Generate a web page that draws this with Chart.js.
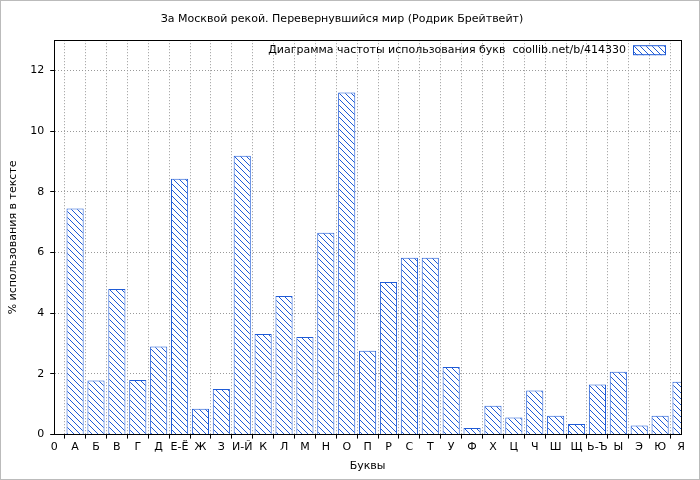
<!DOCTYPE html>
<html><head><meta charset="utf-8">
<script src="https://cdn.jsdelivr.net/npm/chart.js@4"></script>
<style>body{margin:0;background:#fff}#wrap{width:698px;height:478px;border:1px solid #bbb}</style>
</head><body><div id="wrap"><canvas id="c" width="698" height="478"></canvas></div>
<script>
// категории и значения (% использования букв)
var letters = ['0','А','Б','В','Г','Д','Е-Ё','Ж','З','И-Й','К','Л','М','Н','О','П','Р','С','Т','У','Ф','Х','Ц','Ч','Ш','Щ','Ь-Ъ','Ы','Э','Ю','Я'];
var percents = [null,7.45,1.78,4.8,1.8,2.9,8.43,0.85,1.5,9.19,3.32,4.57,3.22,6.65,11.28,2.76,5.03,5.83,5.83,2.23,0.22,0.95,0.56,1.45,0.62,0.35,1.65,2.07,0.3,0.62,1.74];
var yTicks = [0,2,4,6,8,10,12];

// штриховка
function hatch() {
  var p = document.createElement('canvas');
  p.width = 6; p.height = 6;
  var g = p.getContext('2d');
  g.fillStyle = '#fff'; g.fillRect(0,0,6,6);
  g.strokeStyle = '#1f5bd6'; g.lineWidth = 1;
  g.beginPath();
  g.moveTo(0,0); g.lineTo(6,6);
  g.moveTo(-3,3); g.lineTo(3,9);
  g.moveTo(3,-3); g.lineTo(9,3);
  g.stroke();
  return g.createPattern(p, 'repeat');
}
var pat = hatch();
var font = {family: 'DejaVu Sans', size: 11};

var legendInside = {
  id: 'legendInside',
  afterDraw: function(chart) {
    var a = chart.chartArea, ctx = chart.ctx;
    ctx.save();
    ctx.strokeStyle = '#000'; ctx.lineWidth = 1;
    ctx.strokeRect(Math.round(a.left) + 0.5, Math.round(a.top) + 0.5, Math.round(a.right - a.left), Math.round(a.bottom - a.top));
    ctx.font = '11px DejaVu Sans';
    ctx.fillStyle = '#000';
    ctx.textAlign = 'right'; ctx.textBaseline = 'middle';
    ctx.fillText('Диаграмма частоты использования букв  coollib.net/b/414330', a.right - 55, a.top + 10);
    ctx.fillStyle = pat;
    ctx.fillRect(a.right - 47, a.top + 6, 32, 9);
    ctx.strokeStyle = '#1f5bd6';
    ctx.strokeRect(a.right - 47.5, a.top + 5.5, 32, 9);
    ctx.restore();
  }
};

var ctx = document.getElementById('c').getContext('2d');
new Chart(ctx, {
  type: 'bar',
  data: {
    labels: letters,
    datasets: [{
      data: percents,
      backgroundColor: pat,
      borderColor: '#1f5bd6',
      borderWidth: 1,
      categoryPercentage: 1,
      barPercentage: 0.82
    }]
  },
  plugins: [legendInside],
  options: {
    responsive: false,
    animation: false,
    layout: {padding: {top: 4, right: 18, left: 2, bottom: 2}},
    plugins: {
      legend: {display: false},
      tooltip: {enabled: false},
      title: {display: true, text: 'За Москвой рекой. Перевернувшийся мир (Родрик Брейтвейт)', color: '#000', font: {family: 'DejaVu Sans', size: 11, weight: 'normal'}, padding: {top: 8, bottom: 14}}
    },
    scales: {
      x: {
        offset: false,
        grid: {color: '#999', tickLength: 4, tickColor: '#000'},
        border: {display: true, color: '#000', dash: [1, 2]},
        ticks: {color: '#000', font: font, autoSkip: false, maxRotation: 0, padding: 2},
        title: {display: true, text: 'Буквы', color: '#000', font: font, padding: {top: 4}}
      },
      y: {
        min: 0, max: 13,
        afterBuildTicks: function(s) { s.ticks = yTicks.map(function(v){return {value: v};}); },
        grid: {color: '#999', tickLength: 4, tickColor: '#000'},
        border: {display: true, color: '#000', dash: [1, 2]},
        ticks: {color: '#000', font: font, padding: 6},
        title: {display: true, text: '% использования в тексте', color: '#000', font: font}
      }
    }
  }
});
</script></body></html>
